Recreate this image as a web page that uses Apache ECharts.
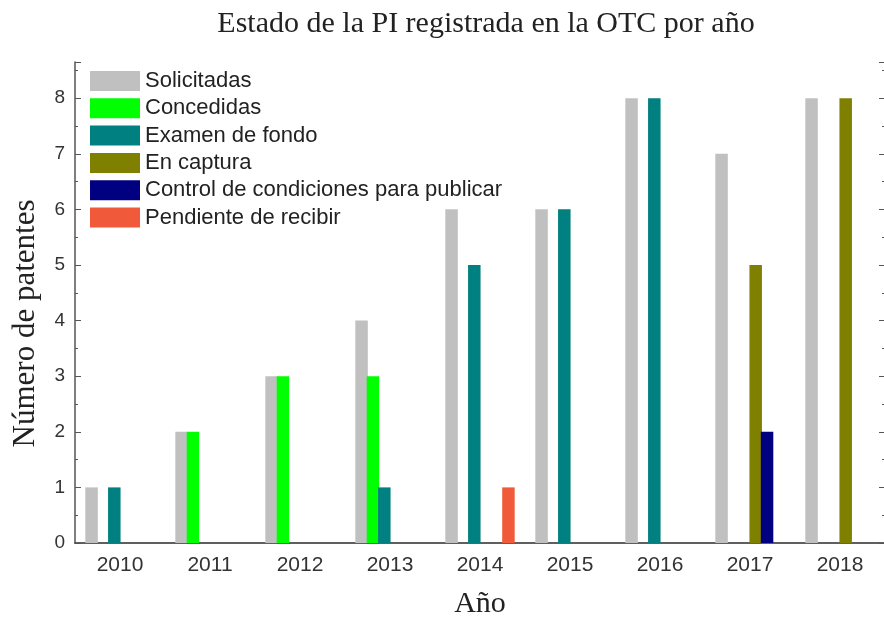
<!DOCTYPE html>
<html>
<head>
<meta charset="utf-8">
<script src="https://cdn.jsdelivr.net/npm/echarts@6/dist/echarts.min.js"></script>
<style>html,body{margin:0;padding:0;background:#fff;overflow:hidden}#c{width:884px;height:619px}</style>
</head>
<body>
<div id="c"></div>
<script>
var years = ['2010','2011','2012','2013','2014','2015','2016','2017','2018'];
var solicitadas = [1, 2, 3, 4, 6, 6, 8, 7, 8];
var concedidas = [null, 2, 3, 3, null, null, null, null, null];
var examenFondo = [1, null, null, 1, 5, 6, 8, null, null];
var enCaptura = [null, null, null, null, null, null, null, 5, 8];
var controlCond = [null, null, null, null, null, null, null, 2, null];
var pendiente = [null, null, null, null, 1, null, null, null, null];
var seriesNames = ['Solicitadas','Concedidas','Examen de fondo','En captura','Control de condiciones para publicar','Pendiente de recibir'];
var seriesData = [solicitadas, concedidas, examenFondo, enCaptura, controlCond, pendiente];
var colors = ['#c0c0c0','#00ff00','#008080','#808000','#000080','#f05a3a'];

var chart = echarts.init(document.getElementById('c'), null, {width: 884, height: 619});
var axisColor = '#555';
var sans = 'Liberation Sans, Arial, sans-serif';
var serif = 'Liberation Serif, Times New Roman, serif';

var option = {
  animation: false,
  backgroundColor: '#fff',
  title: {
    text: 'Estado de la PI registrada en la OTC por año',
    left: 481, textAlign: 'center', top: 4,
    textStyle: {fontFamily: serif, fontWeight: 'normal', fontSize: 30, color: '#222'}
  },
  legend: {
    orient: 'vertical', left: 90, top: 70, padding: 0,
    itemWidth: 50, itemHeight: 20, itemGap: 5.3,
    icon: 'rect',
    textStyle: {fontFamily: sans, fontSize: 22, color: '#222'},
    data: seriesNames
  },
  grid: {left: 75, top: 62, width: 810, height: 481, containLabel: false, outerBoundsMode: 'none'},
  xAxis: [{
    type: 'category', data: years, position: 'bottom',
    axisLine: {lineStyle: {color: axisColor, width: 1.5}},
    axisTick: {inside: true, length: 4, lineStyle: {color: axisColor}},
    axisLabel: {fontFamily: sans, fontSize: 21, color: '#333', margin: 12},
    name: 'Año', nameLocation: 'middle', nameGap: 46,
    nameTextStyle: {fontFamily: serif, fontSize: 30, color: '#222'}
  }, {
    type: 'category', data: years, position: 'top',
    axisLine: {lineStyle: {color: axisColor, width: 1.5}},
    axisTick: {inside: true, length: 4, lineStyle: {color: axisColor}},
    axisLabel: {show: false}
  }],
  yAxis: [{
    type: 'value', min: 0, max: 8.65, interval: 1, position: 'left',
    axisLine: {show: true, lineStyle: {color: axisColor, width: 1.5}},
    axisTick: {show: true, inside: true, length: 6, lineStyle: {color: axisColor}},
    minorTick: {show: true, splitNumber: 2, length: 3, lineStyle: {color: axisColor}},
    splitLine: {show: false},
    axisLabel: {fontFamily: sans, fontSize: 19, color: '#333', margin: 10, showMaxLabel: false},
    name: 'Número de patentes', nameLocation: 'middle', nameGap: 34,
    nameTextStyle: {fontFamily: serif, fontSize: 31, color: '#222', padding: [0, 42, 0, 0]}
  }, {
    type: 'value', min: 0, max: 8.65, interval: 1, position: 'right',
    axisLine: {show: true, lineStyle: {color: axisColor, width: 1.5}},
    axisTick: {show: true, inside: true, length: 6, lineStyle: {color: axisColor}},
    minorTick: {show: true, splitNumber: 2, length: 3, lineStyle: {color: axisColor}},
    splitLine: {show: false},
    axisLabel: {show: false}
  }],
  series: seriesNames.map(function (n, i) {
    return {
      name: n, type: 'bar', data: seriesData[i],
      xAxisIndex: 0, yAxisIndex: 0,
      barWidth: 12.5, barGap: '-9%',
      itemStyle: {color: colors[i]}
    };
  })
};
chart.setOption(option);
</script>
</body>
</html>
